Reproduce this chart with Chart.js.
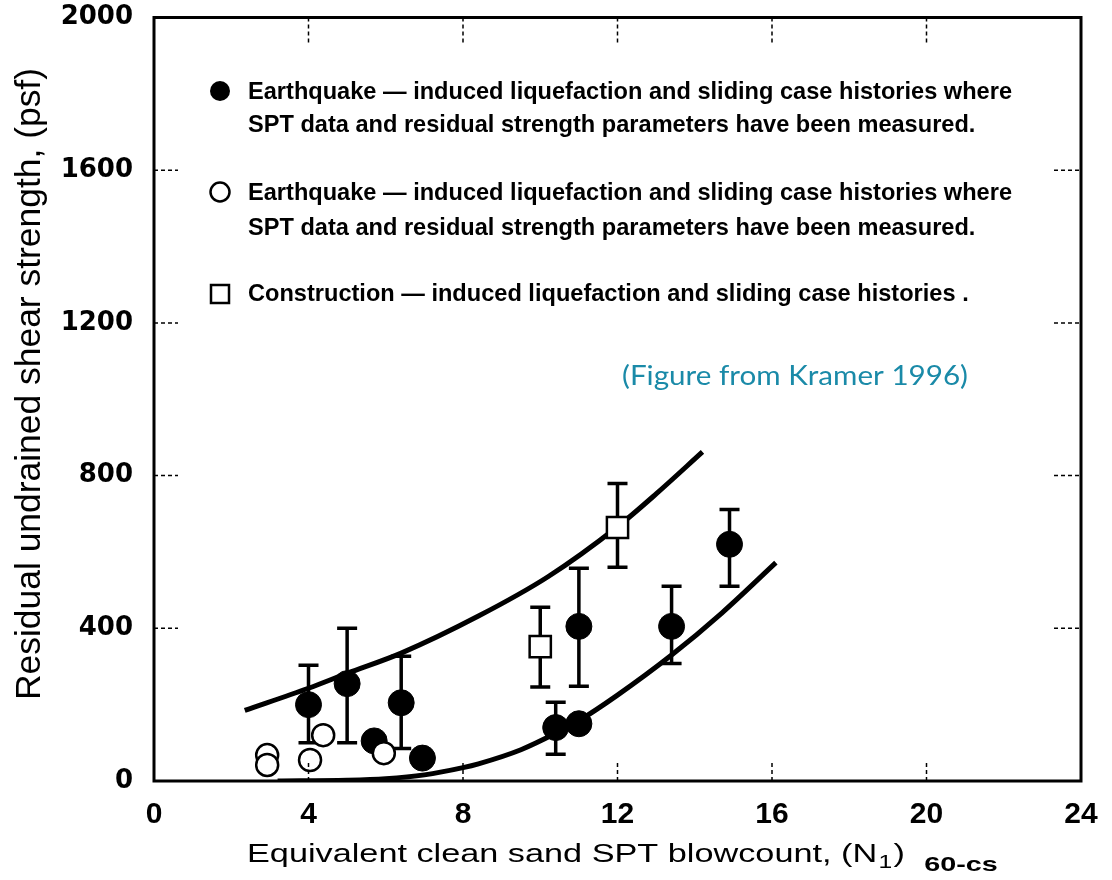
<!DOCTYPE html>
<html>
<head>
<meta charset="utf-8">
<title>Residual undrained shear strength vs SPT blowcount</title>
<script src="https://cdn.jsdelivr.net/npm/chart.js@4.4.1/dist/chart.umd.min.js"></script>
<style>
  html, body { margin: 0; padding: 0; background: #fff; }
  canvas { display: block; }
</style>
</head>
<body>
<canvas id="residualChart" width="1112" height="880"></canvas>
<script>
// axis ticks
const xTicks = [0, 4, 8, 12, 16, 20, 24];
const yTicks = [0, 400, 800, 1200, 1600, 2000];

// earthquake cases with measured SPT data and residual strength (filled circles)
const eqMeasX  = [4.0, 5.0, 5.7, 6.4, 6.95, 10.4, 11.0, 11.0, 13.4, 14.9];
const eqMeasY  = [200, 255, 105, 205, 60, 140, 150, 405, 405, 620];
const eqMeasLo = [100, 100, null, 85, null, 70, null, 248, 308, 510];
const eqMeasHi = [303, 400, null, 327, null, 206, null, 557, 510, 711];

// earthquake cases (open circles)
const eqOpenX = [2.93, 2.93, 4.04, 4.38, 5.95];
const eqOpenY = [68, 42, 55, 120, 73];

// construction cases (open squares)
const constrX  = [10.0, 12.0];
const constrY  = [352, 664];
const constrLo = [246, 560];
const constrHi = [455, 779];

// upper / lower bounding curves
const upperX = [2.35, 4, 5, 6.4, 8.4, 10.2, 12, 13, 14.2];
const upperY = [185, 243, 282, 335, 432, 535, 666, 752, 862];
const lowerX = [3.2, 5, 6, 7, 8, 8.4, 9.5, 10.4, 11, 12, 13.4, 14.7, 16.1];
const lowerY = [0, 2, 6, 16, 35, 45, 82, 125, 158, 225, 330, 440, 572];

const pts = (xs, ys) => xs.map((x, i) => ({ x: x, y: ys[i] }));

const SANS = '"Liberation Sans", Arial, sans-serif';

// stretch a string horizontally so it spans the given width
function fitText(ctx, text, x, y, width) {
  const w = ctx.measureText(text).width;
  ctx.save();
  ctx.translate(x, y);
  ctx.scale(width / w, 1);
  ctx.fillText(text, 0, 0);
  ctx.restore();
}

function errorBars(ctx, sx, sy, xs, lo, hi) {
  for (let i = 0; i < xs.length; i++) {
    if (lo[i] == null) continue;
    const px = sx.getPixelForValue(xs[i]);
    const p1 = sy.getPixelForValue(lo[i]);
    const p2 = sy.getPixelForValue(hi[i]);
    ctx.beginPath();
    ctx.moveTo(px, p1); ctx.lineTo(px, p2);
    ctx.moveTo(px - 10, p1); ctx.lineTo(px + 10, p1);
    ctx.moveTo(px - 10, p2); ctx.lineTo(px + 10, p2);
    ctx.stroke();
  }
}

// keep the plot box fixed: no extra room for overhanging tick labels
function noPad(s) {
  s.paddingTop = 0; s.paddingBottom = 0;
  s.paddingLeft = 0; s.paddingRight = 0;
}

const decorations = {
  id: 'decorations',
  beforeDatasetsDraw(chart) {
    const ctx = chart.ctx, sx = chart.scales.x, sy = chart.scales.y;
    ctx.save();
    ctx.strokeStyle = '#000';
    ctx.lineWidth = 3.5;
    errorBars(ctx, sx, sy, eqMeasX, eqMeasLo, eqMeasHi);
    errorBars(ctx, sx, sy, constrX, constrLo, constrHi);
    ctx.restore();
  },
  afterDraw(chart) {
    const ctx = chart.ctx, a = chart.chartArea;
    const sx = chart.scales.x, sy = chart.scales.y;
    ctx.save();

    // frame
    ctx.strokeStyle = '#000';
    ctx.lineWidth = 3;
    ctx.strokeRect(a.left, a.top, a.right - a.left, a.bottom - a.top);

    // dashed inward ticks on all four sides
    ctx.lineWidth = 1.5;
    ctx.setLineDash([4, 3]);
    ctx.beginPath();
    yTicks.slice(1, -1).forEach(v => {
      const py = sy.getPixelForValue(v);
      ctx.moveTo(a.left, py); ctx.lineTo(a.left + 24, py);
      ctx.moveTo(a.right - 27, py); ctx.lineTo(a.right, py);
    });
    xTicks.slice(1, -1).forEach(v => {
      const px = sx.getPixelForValue(v);
      ctx.moveTo(px, a.top); ctx.lineTo(px, a.top + 26);
      ctx.moveTo(px, a.bottom); ctx.lineTo(px, a.bottom - 20);
    });
    ctx.stroke();
    ctx.setLineDash([]);

    // legend
    ctx.fillStyle = '#000';
    ctx.lineWidth = 2.5;
    ctx.beginPath(); ctx.arc(220, 91, 10, 0, Math.PI * 2); ctx.fill();
    ctx.beginPath(); ctx.arc(220, 192, 9.5, 0, Math.PI * 2); ctx.stroke();
    ctx.strokeRect(211, 285, 18, 18);

    ctx.font = 'bold 24px ' + SANS;
    ctx.textBaseline = 'middle';
    const l1 = 'Earthquake \u2014 induced liquefaction and sliding case histories where';
    const l2 = 'SPT data and residual strength parameters have been measured.';
    const l3 = 'Construction \u2014 induced liquefaction and sliding case histories .';
    const k = 764 / ctx.measureText(l1).width;
    const put = (t, y) => fitText(ctx, t, 248, y, ctx.measureText(t).width * k);
    put(l1, 92);
    put(l2, 125);
    put(l1, 193);
    put(l2, 228);
    put(l3, 294);

    // source note
    ctx.fillStyle = '#1a8aa8';
    ctx.font = '26px Lato, "Open Sans", sans-serif';
    fitText(ctx, '(Figure from Kramer 1996)', 622, 377, 346);

    // y axis title
    ctx.fillStyle = '#000';
    ctx.font = '35px ' + SANS;
    ctx.save();
    ctx.translate(30, 384);
    ctx.rotate(-Math.PI / 2);
    const yt = 'Residual undrained shear strength, (psf)';
    fitText(ctx, yt, -316, 0, 632);
    ctx.restore();

    // x axis title with subscripts
    ctx.textBaseline = 'alphabetic';
    ctx.font = '25px ' + SANS;
    const main = 'Equivalent clean sand SPT blowcount, (N';
    ctx.save();
    ctx.translate(247, 862);
    ctx.scale(1.37, 1);
    let cx = 0;
    ctx.fillText(main, 0, 0);
    cx += ctx.measureText(main).width;
    ctx.font = '18px ' + SANS;
    ctx.fillText('1', cx + 1, 6);
    cx += ctx.measureText('1').width + 2;
    ctx.font = '25px ' + SANS;
    ctx.fillText(')', cx, 0);
    cx += ctx.measureText(')').width + 14;
    ctx.font = 'bold 21px ' + SANS;
    ctx.fillText('60-cs', cx, 9);
    ctx.restore();

    ctx.restore();
  }
};

new Chart(document.getElementById('residualChart'), {
  type: 'scatter',
  data: {
    datasets: [
      {
        label: 'Construction',
        data: pts(constrX, constrY),
        pointStyle: 'rect',
        pointRadius: 15,
        backgroundColor: '#fff',
        borderColor: '#000',
        borderWidth: 2.5,
        order: 1
      },
      {
        label: 'Earthquake (open)',
        data: pts(eqOpenX, eqOpenY),
        pointStyle: 'circle',
        pointRadius: 11,
        backgroundColor: '#fff',
        borderColor: '#000',
        borderWidth: 2.5,
        order: 2
      },
      {
        label: 'Earthquake (measured)',
        data: pts(eqMeasX, eqMeasY),
        pointStyle: 'circle',
        pointRadius: 13,
        backgroundColor: '#000',
        borderColor: '#000',
        borderWidth: 1,
        order: 3
      },
      {
        label: 'Upper bound',
        data: pts(upperX, upperY),
        showLine: true,
        cubicInterpolationMode: 'monotone',
        borderColor: '#000',
        borderWidth: 5,
        pointRadius: 0,
        order: 4
      },
      {
        label: 'Lower bound',
        data: pts(lowerX, lowerY),
        showLine: true,
        cubicInterpolationMode: 'monotone',
        borderColor: '#000',
        borderWidth: 5,
        pointRadius: 0,
        order: 4
      }
    ]
  },
  options: {
    responsive: false,
    devicePixelRatio: 1,
    animation: false,
    events: [],
    layout: { padding: { top: 16, right: 31, left: 0, bottom: 0 } },
    plugins: {
      legend: { display: false },
      tooltip: { enabled: false }
    },
    scales: {
      x: {
        type: 'linear',
        min: 0,
        max: 24,
        afterBuildTicks: s => { s.ticks = xTicks.map(v => ({ value: v })); },
        afterFit: s => { s.height = 99; noPad(s); },
        ticks: {
          color: '#000',
          padding: 16,
          maxRotation: 0,
          callback: v => String(v),
          font: { family: SANS, size: 30, weight: 'bold' }
        },
        grid: { display: false, drawTicks: false },
        border: { display: false }
      },
      y: {
        type: 'linear',
        min: 0,
        max: 2000,
        afterBuildTicks: s => { s.ticks = yTicks.map(v => ({ value: v })); },
        afterFit: s => { s.width = 154; noPad(s); },
        ticks: {
          color: '#000',
          padding: 21,
          callback: v => String(v),
          font: { family: '"DejaVu Sans", sans-serif', size: 26, weight: 'bold' }
        },
        grid: { display: false, drawTicks: false },
        border: { display: false }
      }
    }
  },
  plugins: [decorations]
});
</script>
</body>
</html>
